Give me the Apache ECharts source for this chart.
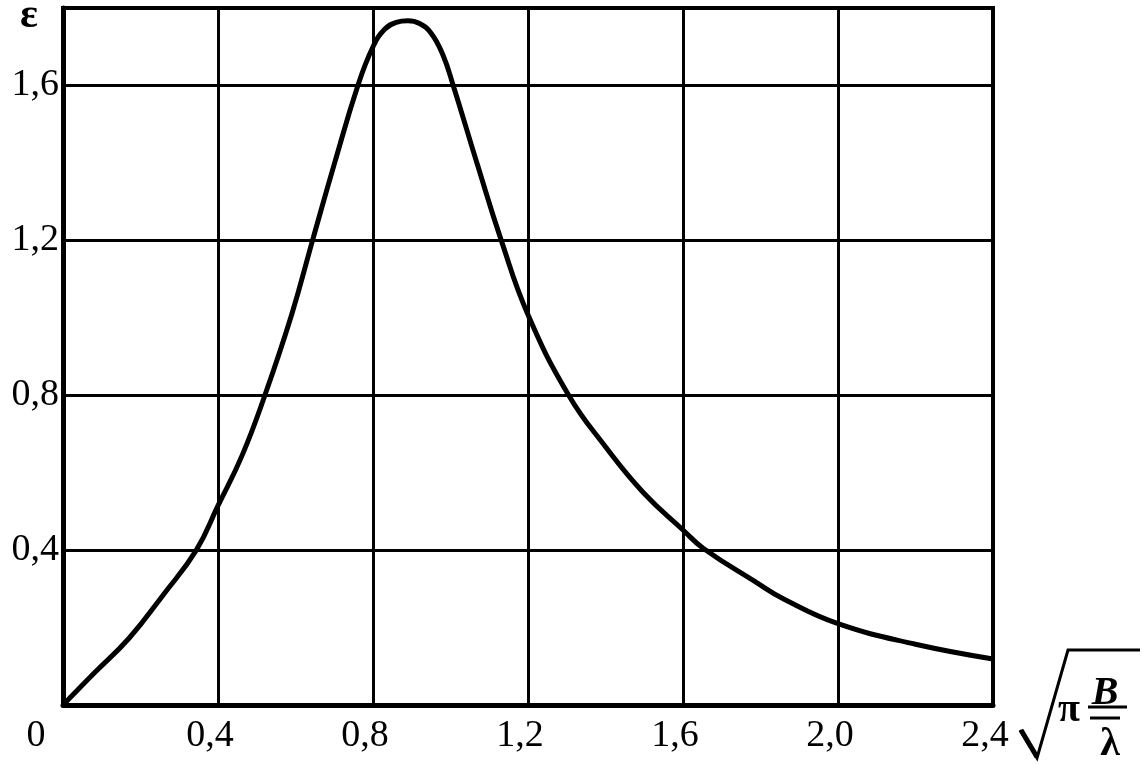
<!DOCTYPE html>
<html>
<head>
<meta charset="utf-8">
<script src="https://cdn.jsdelivr.net/npm/echarts@6/dist/echarts.min.js"></script>
<style>
html,body{margin:0;padding:0;background:#fff;}
#chart{width:1142px;height:764px;}
</style>
</head>
<body>
<div id="chart"></div>
<script>
// Data
var xValues = [0, 0.08, 0.171, 0.259, 0.344, 0.40, 0.462, 0.521, 0.59, 0.644, 0.701, 0.761, 0.80, 0.83, 0.86, 0.89, 0.92, 0.95, 0.98, 1.007, 1.069, 1.131, 1.2, 1.305, 1.396, 1.498, 1.6, 1.652, 1.79, 1.861, 2.0, 2.2, 2.4];
var epsValues = [0, 0.082, 0.173, 0.285, 0.40, 0.515, 0.644, 0.80, 1.008, 1.2, 1.40, 1.6, 1.70, 1.745, 1.763, 1.767, 1.76, 1.735, 1.68, 1.6, 1.397, 1.2, 1.008, 0.8, 0.672, 0.548, 0.452, 0.405, 0.316, 0.273, 0.21, 0.157, 0.119];
var xAxisRange = [0, 2.4];
var yAxisRange = [0, 1.8];
var tickStep = 0.4;
var yAxisTitle = 'ε';

var chart = echarts.init(document.getElementById('chart'), null, {renderer: 'canvas'});
var seriesData = xValues.map(function (x, i) { return [x, epsValues[i]]; });
var FONT = '"Liberation Serif", "DejaVu Serif", serif';

function fmt(v) { return v.toFixed(1).replace('.', ','); }

var option = {
  backgroundColor: '#fff',
  animation: false,
  grid: {left: 63, right: 149, top: 8, bottom: 59, show: true, borderColor: '#000', borderWidth: 4},
  xAxis: {
    type: 'value', min: xAxisRange[0], max: xAxisRange[1], interval: tickStep,
    axisLine: {show: true, lineStyle: {color: '#000', width: 5}},
    axisTick: {show: false},
    splitLine: {show: true, lineStyle: {color: '#000', width: 3}},
    axisLabel: {
      margin: 12,
      formatter: function (v) {
        if (Math.abs(v) < 1e-9) return '{z|0}';
        return '{a|' + fmt(v) + '}';
      },
      rich: {
        z: {fontFamily: FONT, fontSize: 38, color: '#000', padding: [0, 54, 0, 0]},
        a: {fontFamily: FONT, fontSize: 38, color: '#000', padding: [0, 16, 0, 0]}
      }
    }
  },
  yAxis: {
    type: 'value', min: yAxisRange[0], max: yAxisRange[1], interval: tickStep,
    axisLine: {show: true, lineStyle: {color: '#000', width: 5}},
    axisTick: {show: false},
    splitLine: {show: true, lineStyle: {color: '#000', width: 3}},
    axisLabel: {
      margin: 4, fontFamily: FONT, fontSize: 38, color: '#000',
      formatter: function (v) {
        if (Math.abs(v) < 1e-9 || v > 1.7) return '';
        return fmt(v);
      }
    }
  },
  series: [{
    type: 'line', data: seriesData, showSymbol: false, symbol: 'none',
    smooth: 0.45,
    lineStyle: {color: '#000', width: 5},
    z: 5
  }]
};
chart.setOption(option);

// Axis titles placed relative to the axis ends
var yEnd = chart.convertToPixel({gridIndex: 0}, [0, yAxisRange[1]]);
var xEnd = chart.convertToPixel({gridIndex: 0}, [xAxisRange[1], 0]);
var ox = xEnd[0], oy = xEnd[1];
chart.setOption({
  graphic: [
    {type: 'text', x: yEnd[0] - 34, y: yEnd[1] + 8,
     style: {text: yAxisTitle, font: 'bold 42px ' + FONT, fill: '#000', align: 'center', verticalAlign: 'middle'}},
    {type: 'polyline', shape: {points: [[ox + 27, oy + 25], [ox + 44, oy + 53], [ox + 75, oy - 55], [ox + 147, oy - 55]]},
     style: {stroke: '#000', lineWidth: 3, fill: null}},
    {type: 'line', shape: {x1: ox + 28, y1: oy + 25, x2: ox + 44, y2: oy + 52}, style: {stroke: '#000', lineWidth: 5}},
    {type: 'text', x: ox + 76, y: oy + 6,
     style: {text: 'π', font: 'bold 40px ' + FONT, fill: '#000', align: 'center', verticalAlign: 'middle'}},
    {type: 'text', x: ox + 112, y: oy - 11,
     style: {text: 'B', font: 'italic bold 40px ' + FONT, fill: '#000', align: 'center', verticalAlign: 'middle'}},
    {type: 'line', shape: {x1: ox + 95, y1: oy + 2, x2: ox + 134, y2: oy + 2}, style: {stroke: '#000', lineWidth: 3}},
    {type: 'line', shape: {x1: ox + 97, y1: oy + 13, x2: ox + 127, y2: oy + 13}, style: {stroke: '#000', lineWidth: 3}},
    {type: 'text', x: ox + 117, y: oy + 40,
     style: {text: 'λ', font: 'bold 40px ' + FONT, fill: '#000', align: 'center', verticalAlign: 'middle'}}
  ]
});
</script>
</body>
</html>
